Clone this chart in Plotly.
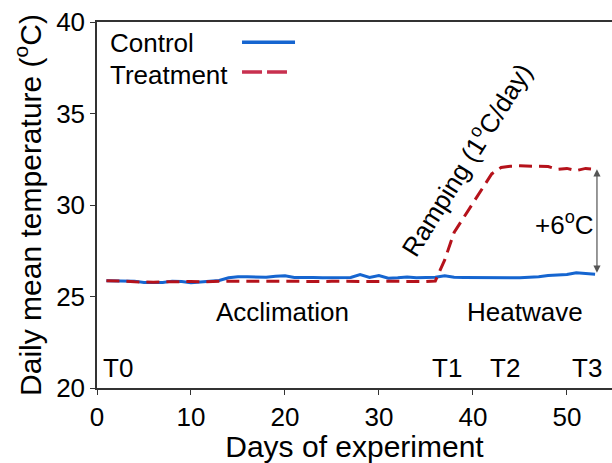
import plotly.graph_objects as go

days = list(range(1, 54))
control = [25.86, 25.86, 25.85, 25.84, 25.76, 25.74, 25.76, 25.84, 25.82, 25.75,
           25.80, 25.83, 25.88, 26.02, 26.08, 26.08, 26.06, 26.05, 26.10, 26.13,
           26.04, 26.02, 26.04, 26.03, 26.02, 26.03, 26.04, 26.20, 26.04, 26.14,
           26.00, 26.02, 26.06, 26.03, 26.03, 26.05, 26.13, 26.05, 26.04, 26.03,
           26.04, 26.03, 26.04, 26.02, 26.03, 26.05, 26.08, 26.15, 26.18, 26.20,
           26.30, 26.28, 26.22]
treatment = [25.86, 25.86, 25.84, 25.80, 25.78, 25.78, 25.80, 25.82, 25.84, 25.82,
             25.80, 25.82, 25.83, 25.84, 25.84, 25.82, 25.83, 25.84, 25.83, 25.82,
             25.82, 25.83, 25.82, 25.82, 25.83, 25.82, 25.82, 25.83, 25.82, 25.82,
             25.83, 25.82, 25.82, 25.82, 25.82, 25.85, 27.00, 28.50, 29.30, 30.10,
             30.90, 31.70, 32.05, 32.12, 32.14, 32.14, 32.13, 32.10, 31.95, 32.00,
             31.88, 32.00, 31.95]

x_ticks = [0, 10, 20, 30, 40, 50]
y_ticks = [20, 25, 30, 35, 40]
timepoints = ["T0", "T1", "T2", "T3"]
timepoint_days = [2.2, 37.2, 43.4, 52.1]
phase_labels = ["Acclimation", "Heatwave"]
phase_days = [19.7, 45.5]

FONT = "Liberation Sans, Arial, sans-serif"
BLUE = "#1565d0"
RED = "#b5121b"
LEG_RED = "#c8304f"
FS = 26

fig = go.Figure()
fig.add_trace(go.Scatter(x=days, y=control, mode="lines",
                         line=dict(color=BLUE, width=3), showlegend=False))
fig.add_trace(go.Scatter(x=days, y=treatment, mode="lines",
                         line=dict(color=RED, width=3, dash="13px,7px"), showlegend=False))

ann = []
for lab, d in zip(timepoints, timepoint_days):
    ann.append(dict(x=d, y=21.1, text=lab, showarrow=False, font=dict(size=FS)))
for lab, d in zip(phase_labels, phase_days):
    ann.append(dict(x=d, y=24.16, text=lab, showarrow=False, font=dict(size=FS)))
ann.append(dict(x=39.2, y=32.5, text="Ramping (1<sup>o</sup>C/day)", textangle=-58,
                showarrow=False, font=dict(size=FS)))
ann.append(dict(x=49.7, y=29.0, text="+6<sup>o</sup>C", showarrow=False, font=dict(size=FS)))
# double-headed arrow between the last values
ann.append(dict(x=days[-1] + 0.2, y=treatment[-1], ax=days[-1] + 0.2, ay=control[-1],
                xref="x", yref="y", axref="x", ayref="y", text="",
                showarrow=True, arrowhead=2, startarrowhead=2, arrowside="end+start",
                arrowsize=1.2, arrowwidth=1.2, arrowcolor="#555555"))
# legend texts
ann.append(dict(x=0.0214, y=0.9426, xref="paper", yref="paper", text="Control",
                showarrow=False, xanchor="left", yanchor="middle", font=dict(size=FS)))
ann.append(dict(x=0.0214, y=0.855, xref="paper", yref="paper", text="Treatment",
                showarrow=False, xanchor="left", yanchor="middle", font=dict(size=FS)))

shapes = [
    dict(type="line", xref="paper", yref="paper", x0=0.2816, x1=0.3845, y0=0.945, y1=0.945,
         line=dict(color=BLUE, width=3.5)),
    dict(type="line", xref="paper", yref="paper", x0=0.2816, x1=0.3689, y0=0.8634, y1=0.8634,
         line=dict(color=LEG_RED, width=3.5, dash="20px,5px")),
]

fig.update_layout(
    width=612, height=463,
    margin=dict(l=97, r=0, t=22, b=75),
    paper_bgcolor="white", plot_bgcolor="white",
    font=dict(family=FONT, size=FS, color="black"),
    annotations=ann, shapes=shapes, showlegend=False,
    xaxis=dict(range=[0, 54.8], tickvals=x_ticks, ticks="outside", ticklen=5,
               tickcolor="#333", showline=True, linecolor="#333", linewidth=1.5,
               mirror=True, showgrid=False, zeroline=False,
               tickfont=dict(size=FS),
               title=dict(text="Days of experiment", font=dict(size=30), standoff=2)),
    yaxis=dict(range=[20, 40], tickvals=y_ticks, ticks="outside", ticklen=5,
               tickcolor="#333", showline=True, linecolor="#333", linewidth=1.5,
               showgrid=False, zeroline=False, tickfont=dict(size=FS),
               title=dict(text="Daily mean temperature (<sup>o</sup>C)", font=dict(size=30),
                          standoff=6)),
)

fig.write_html("out.html")
